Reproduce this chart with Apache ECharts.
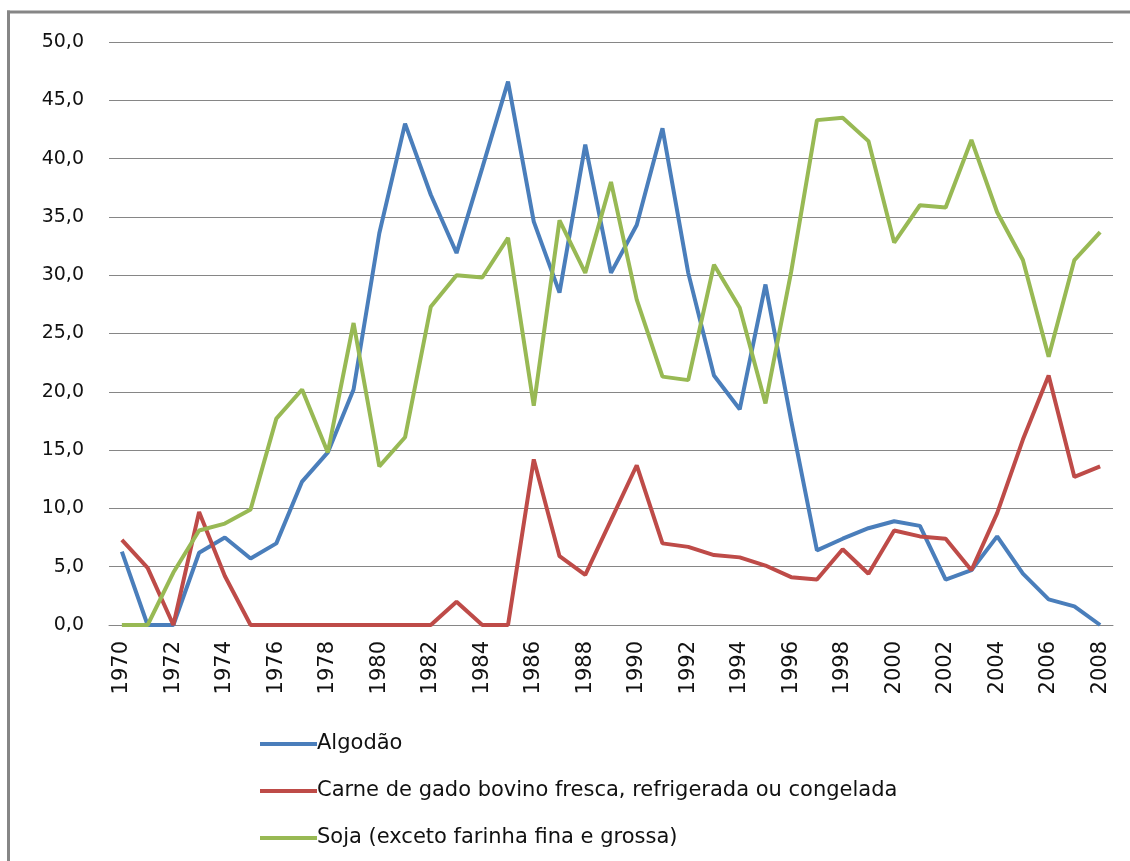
<!DOCTYPE html>
<html>
<head>
<meta charset="utf-8">
<script src="https://cdn.jsdelivr.net/npm/echarts@6/dist/echarts.min.js"></script>
<style>html,body{margin:0;padding:0;background:#fff;}#c{width:1130px;height:861px;}</style>
</head>
<body>
<div id="c"></div>
<script>
const years = [];
for (let y = 1970; y <= 2008; y++) years.push(String(y));

const algodao = [6.3, 0, 0, 6.2, 7.5, 5.7, 7.0, 12.3, 14.8, 20.2, 33.6, 43.0, 36.9, 31.9, 39.2, 46.6, 34.6, 28.5, 41.2, 30.2, 34.3, 42.6, 30.2, 21.4, 18.5, 29.2, 17.5, 6.4, 7.4, 8.3, 8.9, 8.5, 3.9, 4.7, 7.6, 4.4, 2.2, 1.6, 0];
const carne = [7.3, 4.9, 0, 9.7, 4.2, 0, 0, 0, 0, 0, 0, 0, 0, 2.0, 0, 0, 14.2, 5.9, 4.3, 9.0, 13.7, 7.0, 6.7, 6.0, 5.8, 5.1, 4.1, 3.9, 6.5, 4.4, 8.1, 7.6, 7.4, 4.7, 9.6, 15.9, 21.4, 12.7, 13.6];
const soja = [0, 0, 4.5, 8.1, 8.7, 9.9, 17.7, 20.2, 14.8, 25.9, 13.6, 16.1, 27.3, 30.0, 29.8, 33.2, 18.8, 34.7, 30.2, 38.0, 27.9, 21.3, 21.0, 30.9, 27.2, 19.0, 30.3, 43.3, 43.5, 41.5, 32.8, 36.0, 35.8, 41.6, 35.4, 31.3, 23.0, 31.3, 33.7];

const seriesNames = ['Algodão', 'Carne de gado bovino fresca, refrigerada ou congelada', 'Soja (exceto farinha fina e grossa)'];
const colors = ['#4A7EBB', '#BE4B48', '#98B954'];

const chart = echarts.init(document.getElementById('c'), null, {renderer: 'canvas'});
const mk = (name, data, color) => ({
  name, type: 'line', data, symbol: 'none', smooth: false,
  lineStyle: {color, width: 4}, itemStyle: {color}
});
chart.setOption({
  animation: false,
  backgroundColor: '#fff',
  grid: {left: 109, right: 17, top: 42, bottom: 236},
  graphic: [
    {type: 'line', shape: {x1: 7, y1: 12, x2: 1130, y2: 12}, style: {stroke: '#868686', lineWidth: 3}, silent: true, z: 100},
    {type: 'line', shape: {x1: 8.5, y1: 10.5, x2: 8.5, y2: 861}, style: {stroke: '#868686', lineWidth: 3}, silent: true, z: 100}
  ],
  legend: {
    orient: 'vertical', left: 255, top: 727, itemGap: 23,
    itemWidth: 57, itemHeight: 4, icon: 'rect',
    textStyle: {fontFamily: 'DejaVu Sans', fontSize: 21, color: '#111', lineHeight: 24, padding: [0, 0, 0, -5]},
    data: seriesNames
  },
  xAxis: {
    type: 'category', data: years, boundaryGap: true,
    axisLine: {show: true, lineStyle: {color: '#868686', width: 1}},
    axisTick: {show: false},
    axisLabel: {interval: 1, rotate: 90, fontFamily: 'DejaVu Sans', fontSize: 21, color: '#111', margin: 16}
  },
  yAxis: {
    type: 'value', min: 0, max: 50, interval: 5,
    axisLine: {show: false}, axisTick: {show: false},
    splitLine: {lineStyle: {color: '#868686', width: 1}},
    axisLabel: {fontFamily: 'DejaVu Sans', fontSize: 19, color: '#111', margin: 25,
      formatter: v => v.toFixed(1).replace('.', ',')}
  },
  series: [mk(seriesNames[0], algodao, colors[0]), mk(seriesNames[1], carne, colors[1]), mk(seriesNames[2], soja, colors[2])]
});
</script>
</body>
</html>
